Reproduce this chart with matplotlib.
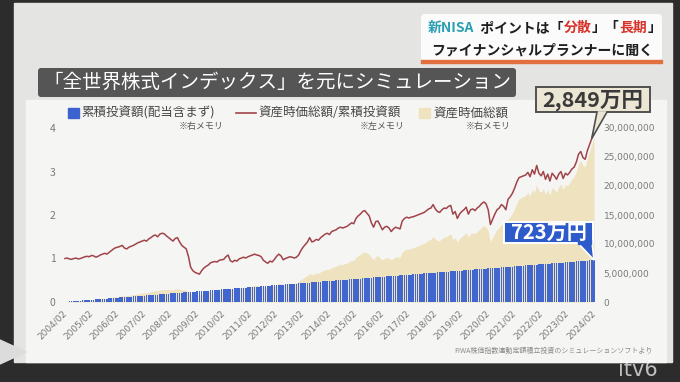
import numpy as np
import pandas as pd
import matplotlib
matplotlib.use('Agg')
import matplotlib.pyplot as plt
from matplotlib.patches import Rectangle, FancyBboxPatch, Polygon

plt.rcParams['font.family'] = ['Noto Sans CJK JP', 'DejaVu Sans']

# データ（2004/02〜2024/02 の月次）
months = pd.date_range('2004-02-01', '2024-02-01', freq='MS')
contrib = [30000] * len(months)          # 毎月3万円の積立
invest = np.cumsum(contrib)              # 累積投資額

# 資産時価総額/累積投資額（1行 = 2月〜翌年1月）
ratio = np.array([
    1.00, 1.01, 0.99, 0.98, 1.00, 1.01, 0.99, 1.00, 1.02, 1.04, 1.05, 1.04,  # 2004
    1.07, 1.06, 1.03, 1.05, 1.08, 1.10, 1.12, 1.10, 1.14, 1.18, 1.22, 1.25,  # 2005
    1.26, 1.28, 1.30, 1.24, 1.22, 1.26, 1.28, 1.30, 1.33, 1.36, 1.38, 1.40,  # 2006
    1.42, 1.40, 1.45, 1.48, 1.52, 1.54, 1.50, 1.56, 1.58, 1.57, 1.52, 1.48,  # 2007
    1.44, 1.40, 1.46, 1.48, 1.38, 1.30, 1.26, 1.22, 1.05, 0.80, 0.72, 0.68,  # 2008
    0.66, 0.64, 0.72, 0.78, 0.82, 0.85, 0.90, 0.92, 0.93, 0.92, 0.96, 0.97,  # 2009
    0.98, 1.04, 1.08, 0.95, 0.92, 0.96, 0.94, 0.99, 1.01, 1.03, 1.01, 1.04,  # 2010
    1.06, 1.08, 1.10, 1.08, 1.07, 1.04, 0.96, 0.92, 0.89, 0.94, 0.92, 0.98,  # 2011
    1.05, 1.10, 1.06, 0.97, 1.00, 1.02, 1.04, 1.03, 1.01, 1.03, 1.08, 1.18,  # 2012
    1.26, 1.32, 1.38, 1.48, 1.38, 1.40, 1.44, 1.42, 1.48, 1.52, 1.56, 1.58,  # 2013
    1.55, 1.62, 1.64, 1.66, 1.70, 1.72, 1.70, 1.72, 1.74, 1.78, 1.82, 1.80,  # 2014
    1.92, 1.98, 2.02, 2.08, 2.10, 2.04, 1.98, 1.82, 1.72, 1.85, 1.86, 1.76,  # 2015
    1.66, 1.72, 1.74, 1.70, 1.62, 1.68, 1.72, 1.70, 1.68, 1.86, 1.92, 1.95,  # 2016
    1.93, 1.95, 1.96, 1.98, 2.00, 2.02, 2.04, 2.06, 2.10, 2.14, 2.16, 2.24,  # 2017
    2.14, 2.08, 2.06, 2.12, 2.16, 2.15, 2.20, 2.22, 2.02, 2.08, 1.92, 2.02,  # 2018
    2.08, 2.12, 2.18, 2.02, 2.12, 2.14, 2.10, 2.16, 2.20, 2.26, 2.30, 2.26,  # 2019
    2.12, 1.78, 1.90, 2.02, 2.12, 2.16, 2.24, 2.20, 2.12, 2.36, 2.42, 2.50,  # 2020
    2.62, 2.76, 2.86, 2.88, 2.90, 2.92, 2.98, 2.88, 3.04, 2.94, 3.14, 2.96,  # 2021
    2.90, 3.00, 2.82, 2.94, 2.78, 2.96, 2.90, 2.82, 2.94, 3.00, 2.84, 2.96,  # 2022
    2.92, 2.98, 3.06, 3.10, 3.22, 3.40, 3.46, 3.32, 3.28, 3.48, 3.62, 3.76,  # 2023
    3.94,                                                                    # 2024/02
])
asset = ratio * invest                   # 資産時価総額

tick_years = list(range(2004, 2025))
tick_labels = [f'{y}/02' for y in tick_years]
left_ticks = [0, 1, 2, 3, 4]
right_ticks = [0, 5e6, 10e6, 15e6, 20e6, 25e6, 30e6]

W, H = 680, 382
fig = plt.figure(figsize=(W / 100, H / 100), dpi=100, facecolor='#2c2c2c')

# 背景（ボード）
bg = fig.add_axes([0, 0, 1, 1], zorder=0)
bg.set_xlim(0, W)
bg.set_ylim(H, 0)
bg.axis('off')
bg.add_patch(Rectangle((14, 3), 658, 359, color='#e4e4e2'))
bg.add_patch(Rectangle((26, 100), 640, 262, color='#f5f5f4'))

# メインの軸
idx = np.arange(len(months))
ppm = 529 / 240
x0 = 65 - 0.6 * ppm
ax = fig.add_axes([x0 / W, 80 / H, 241.2 * ppm / W, 174 / H], zorder=3)
ax2 = ax.twinx()
ax2.set_zorder(2)
ax.patch.set_visible(False)
ax2.patch.set_visible(False)

ax2.fill_between(idx, 0, asset, color='#efe2bf', linewidth=0)
ax2.bar(idx, invest, width=0.74, color='#4166d0', linewidth=0)
ax.plot(idx, ratio, color='#a0444a', lw=1.1)

ax.set_xlim(-0.6, 240.6)
ax.set_ylim(0, 4)
ax2.set_ylim(0, 30e6)

ax.set_yticks(left_ticks)
ax.set_yticklabels([str(v) for v in left_ticks])
ax2.set_yticks(right_ticks)
ax2.set_yticklabels([f'{int(v):,}' for v in right_ticks])
ax.set_xticks([(y - 2004) * 12 for y in tick_years])
ax.set_xticklabels(tick_labels, rotation=45, ha='right', va='center',
                   rotation_mode='anchor')

for a in (ax, ax2):
    for s in a.spines.values():
        s.set_visible(False)
    a.tick_params(length=0, colors='#7a7a7a')
ax.tick_params(axis='y', labelsize=7.5, pad=6)
ax2.tick_params(axis='y', labelsize=6.5, pad=6)
ax.tick_params(axis='x', labelsize=6.5, pad=7)
for t in ax.get_xticklabels() + ax2.get_yticklabels():
    t.set_family(['Liberation Sans Narrow', 'DejaVu Sans'])

# 前面のレイヤー（テキスト・吹き出し）
fg = fig.add_axes([0, 0, 1, 1], zorder=10)
fg.set_xlim(0, W)
fg.set_ylim(H, 0)
fg.axis('off')
fg.patch.set_visible(False)


def to_px(a, x, y):
    dx, dy = a.transData.transform((x, y))
    return dx, H - dy


renderer = fig.canvas.get_renderer()


def run_text(x, y, parts, size, weight='bold'):
    for s, c in parts:
        t = fg.text(x, y, s, color=c, fontsize=size, fontweight=weight,
                    ha='left', va='center')
        bb = t.get_window_extent(renderer)
        x += bb.width


# 右上のテロップ
fg.add_patch(FancyBboxPatch((421, 14), 241, 47, boxstyle='round,pad=0,rounding_size=4',
                            facecolor='#fbfbfb', edgecolor='none'))
fg.add_patch(Rectangle((421, 60), 241, 2.5, color='#e0703f'))
run_text(428, 28, [('新NISA', '#2b9fb4'), ('  ポイントは「', '#1e1e1e'),
                   ('分散', '#d8332a'), ('」「', '#1e1e1e'), ('長期', '#d8332a'),
                   ('」', '#1e1e1e')], 10)
fg.text(542, 50, 'ファイナンシャルプランナーに聞く', fontsize=10, fontweight='bold',
        color='#1e1e1e', ha='center', va='center')

# タイトル
fg.add_patch(FancyBboxPatch((38, 68), 478, 29, boxstyle='round,pad=0,rounding_size=3',
                            facecolor='#555555', edgecolor='none'))
fg.text(277, 82.5, '「全世界株式インデックス」を元にシミュレーション', fontsize=14,
        color='white', ha='center', va='center')

# 凡例
fg.add_patch(Rectangle((68, 108), 11, 10, color='#3c62d0'))
fg.text(81, 113, '累積投資額(配当含まず)', fontsize=9, color='#474747', va='center')
fg.plot([236, 256], [113, 113], color='#a0444a', lw=1.2)
fg.text(258, 113, '資産時価総額/累積投資額', fontsize=9, color='#474747', va='center')
fg.add_patch(Rectangle((419, 108), 11, 10, color='#efe2bf'))
fg.text(433, 113, '資産時価総額', fontsize=9, color='#474747', va='center')
for xr, s in [(224, '※右メモリ'), (405, '※左メモリ'), (511, '※右メモリ')]:
    fg.text(xr, 126.5, s, fontsize=6.5, color='#555555', ha='right', va='center')

# 吹き出し 2,849万円
tx, ty = to_px(ax, 239, ratio[-2])
fg.add_patch(Rectangle((536, 87), 114, 25, facecolor='#ece7d4', edgecolor='#505050', lw=1.4))
fg.add_patch(Polygon([(597, 111.2), (607, 111.2), (tx, ty)], closed=True,
                     facecolor='#ece7d4', edgecolor='none'))
fg.plot([597, tx, 607], [112, ty, 112], color='#505050', lw=1.2)
fg.text(593, 100, f'{asset[-1] / 1e4:,.0f}万円', fontsize=15.5, fontweight='bold',
        color='#3a3a3a', ha='center', va='center')

# 吹き出し 723万円
bx, by = to_px(ax2, 240, invest[-1])
fg.add_patch(Polygon([(577, 242), (592, 242), (bx, by)], closed=True,
                     facecolor='#2d5bc9', edgecolor='white', lw=1.2))
fg.add_patch(Rectangle((504, 222), 89, 21, facecolor='#2d5bc9', edgecolor='white', lw=1.4))
fg.add_patch(Rectangle((578, 240), 13, 3.5, color='#2d5bc9'))
fg.text(548.5, 232.5, f'{invest[-1] / 1e4:,.0f}万円', fontsize=14.5, fontweight='bold',
        color='white', ha='center', va='center')

# 出典・ロゴなど
fg.text(653, 351, 'FIWA株価指数連動定額積立投資のシミュレーションソフトより', fontsize=5,
        color='#8a8a8a', ha='right', va='center')
fg.add_patch(Polygon([(0, 340), (26, 352), (0, 364)], closed=True, color='#dcdcdc'))
fg.text(638, 370, 'itv6', fontsize=15, color='white', alpha=0.7, ha='center',
        va='center', family='DejaVu Sans')

fig.savefig('out.png', dpi=100, facecolor=fig.get_facecolor())
